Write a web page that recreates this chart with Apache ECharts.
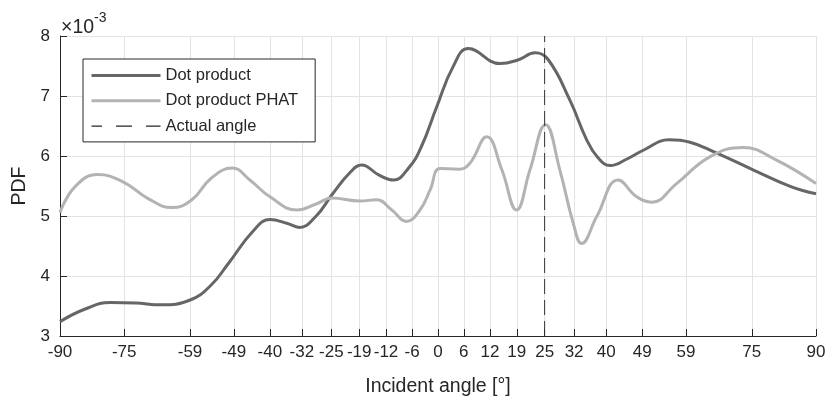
<!DOCTYPE html>
<html>
<head>
<meta charset="utf-8">
<script src="https://cdn.jsdelivr.net/npm/echarts@6/dist/echarts.min.js"></script>
<style>
html,body{margin:0;padding:0;background:#fff;}
#chart{width:827px;height:401px;}
</style>
</head>
<body>
<div id="chart"></div>
<script>
// X tick positions (degrees) and their printed labels
var tickAngles = [-90, -74.72, -59.04, -48.61, -40.03, -32.41, -25.39, -18.76, -12.38, -6.15, 0,
                  6.15, 12.38, 18.76, 25.39, 32.41, 40.03, 48.61, 59.04, 74.72, 90];
var tickLabels = ['-90','-75','-59','-49','-40','-32','-25','-19','-12','-6','0',
                  '6','12','19','25','32','40','49','59','75','90'];

// Series values (PDF, in units of 1e-3) at incident angles (degrees)
var dotAngles = [-90,-84,-78,-72,-66,-59,-54,-50,-44,-40,-36,-33,-29,-25.3,-21,-18.2,-14,-10.6,-7,-4,
                 -0.3,3.6,7.2,14.8,19,23.1,26.3,31.4,35.4,38,41,45,49,55,60,66,75,84,90];
var dotValues = [3.24,3.45,3.56,3.55,3.52,3.60,3.85,4.20,4.75,4.94,4.88,4.81,5.00,5.35,5.72,5.85,5.68,5.60,5.80,6.15,
                 6.82,7.49,7.79,7.54,7.60,7.72,7.60,6.93,6.27,5.98,5.84,5.95,6.10,6.27,6.23,6.06,5.77,5.49,5.37];

var phatAngles = [-90,-86.4,-81,-75,-69,-63.4,-58.6,-54,-49,-44.8,-40,-33.6,-29,-25.3,-18.6,-14.6,-11,-7.5,-4.3,-1.9,
                  0.5,5,7.6,11.6,15.2,18.7,21.9,25.6,29,32.2,34.2,37.8,42.9,47.3,50.9,56.8,64.8,72.7,80.6,90];
var phatValues = [5.06,5.49,5.69,5.57,5.29,5.14,5.27,5.63,5.80,5.60,5.32,5.10,5.20,5.30,5.25,5.27,5.10,4.91,5.10,5.43,
                  5.79,5.78,5.88,6.32,5.77,5.10,5.77,6.52,5.77,4.88,4.54,4.99,5.60,5.32,5.23,5.54,5.99,6.14,5.93,5.54];

var actualAngle = [25.39];
var yRange = [3, 8];
var yTicks = [3, 4, 5, 6, 7, 8];

function zip(a, b) { return a.map(function (v, i) { return [v, b[i]]; }); }

var axisColor = '#262626';
var gridColor = '#e3e3e3';
var fontFam = '"Liberation Sans", Arial, Helvetica, sans-serif';

var chart = echarts.init(document.getElementById('chart'), null, {renderer: 'canvas'});
chart.setOption({
  animation: false,
  backgroundColor: '#ffffff',
  textStyle: {fontFamily: fontFam, color: axisColor},
  grid: {left: 60, right: 11, top: 36, bottom: 65, outerBoundsMode: 'none', containLabel: false},
  xAxis: {
    type: 'value', min: -90, max: 90,
    name: 'Incident angle [°]', nameLocation: 'middle', nameGap: 41,
    nameTextStyle: {fontSize: 19.5, color: axisColor, fontFamily: fontFam},
    axisLine: {show: true, onZero: false, lineStyle: {color: axisColor, width: 1}},
    axisTick: {show: true, inside: true, length: 7, customValues: tickAngles, lineStyle: {color: axisColor, width: 1}},
    axisLabel: {
      customValues: tickAngles, margin: 8, fontSize: 17, color: axisColor, fontFamily: fontFam,
      formatter: function (v) {
        var best = 0, bd = 1e9;
        for (var i = 0; i < tickAngles.length; i++) { var d = Math.abs(tickAngles[i] - v); if (d < bd) { bd = d; best = i; } }
        return tickLabels[best];
      }
    },
    splitLine: {show: true, lineStyle: {color: gridColor, width: 1}}
  },
  yAxis: {
    type: 'value', min: yRange[0], max: yRange[1], interval: 1,
    name: 'PDF', nameLocation: 'middle', nameGap: 30,
    nameTextStyle: {fontSize: 19.5, color: axisColor, fontFamily: fontFam},
    axisLine: {show: true, onZero: false, lineStyle: {color: axisColor, width: 1}},
    axisTick: {show: true, inside: true, length: 7, lineStyle: {color: axisColor, width: 1}},
    axisLabel: {margin: 10, fontSize: 17, color: axisColor, fontFamily: fontFam,
      formatter: function (v) { return yTicks.indexOf(v) >= 0 ? String(v) : ''; }},
    splitLine: {show: true, lineStyle: {color: gridColor, width: 1}}
  },
  legend: {
    orient: 'vertical', left: 83, top: 59,
    itemWidth: 69, itemHeight: 14, itemGap: 8.3,
    padding: [8, 17, 7.3, 7],
    backgroundColor: '#ffffff', borderColor: axisColor, borderWidth: 1,
    textStyle: {fontSize: 16.5, color: axisColor, fontFamily: fontFam},
    itemStyle: {opacity: 0},
    selectedMode: false,
    data: [
      {name: 'Dot product', lineStyle: {width: 3}},
      {name: 'Dot product PHAT', lineStyle: {width: 3}},
      {name: 'Actual angle', lineStyle: {width: 1.2, color: '#262626', type: [16, 14], dashOffset: 5.5}}
    ]
  },
  graphic: [{
    type: 'text', left: 61, top: 11, z: 10,
    style: {
      text: '{a|×10}{b|-3}', fill: axisColor,
      rich: {
        a: {fontSize: 19.5, fontFamily: fontFam, fill: axisColor, verticalAlign: 'bottom', padding: [7, 0, 0, 0]},
        b: {fontSize: 14, fontFamily: fontFam, fill: axisColor, verticalAlign: 'top'}
      }
    }
  }],
  series: [
    {
      name: 'Dot product', type: 'line', data: zip(dotAngles, dotValues),
      showSymbol: false, symbol: 'none', smooth: 0.45,
      lineStyle: {color: '#666666', width: 3}, itemStyle: {color: '#666666'}, z: 3
    },
    {
      name: 'Dot product PHAT', type: 'line', data: zip(phatAngles, phatValues),
      showSymbol: false, symbol: 'none', smooth: 0.45,
      lineStyle: {color: '#b3b3b3', width: 3}, itemStyle: {color: '#b3b3b3'}, z: 4
    },
    {
      name: 'Actual angle', type: 'line',
      data: [[actualAngle[0], yRange[0]], [actualAngle[0], yRange[1]]],
      showSymbol: false, symbol: 'none',
      lineStyle: {color: '#333333', width: 1, type: [15, 6]}, itemStyle: {color: '#333333'}, z: 5
    }
  ]
});
</script>
</body>
</html>
